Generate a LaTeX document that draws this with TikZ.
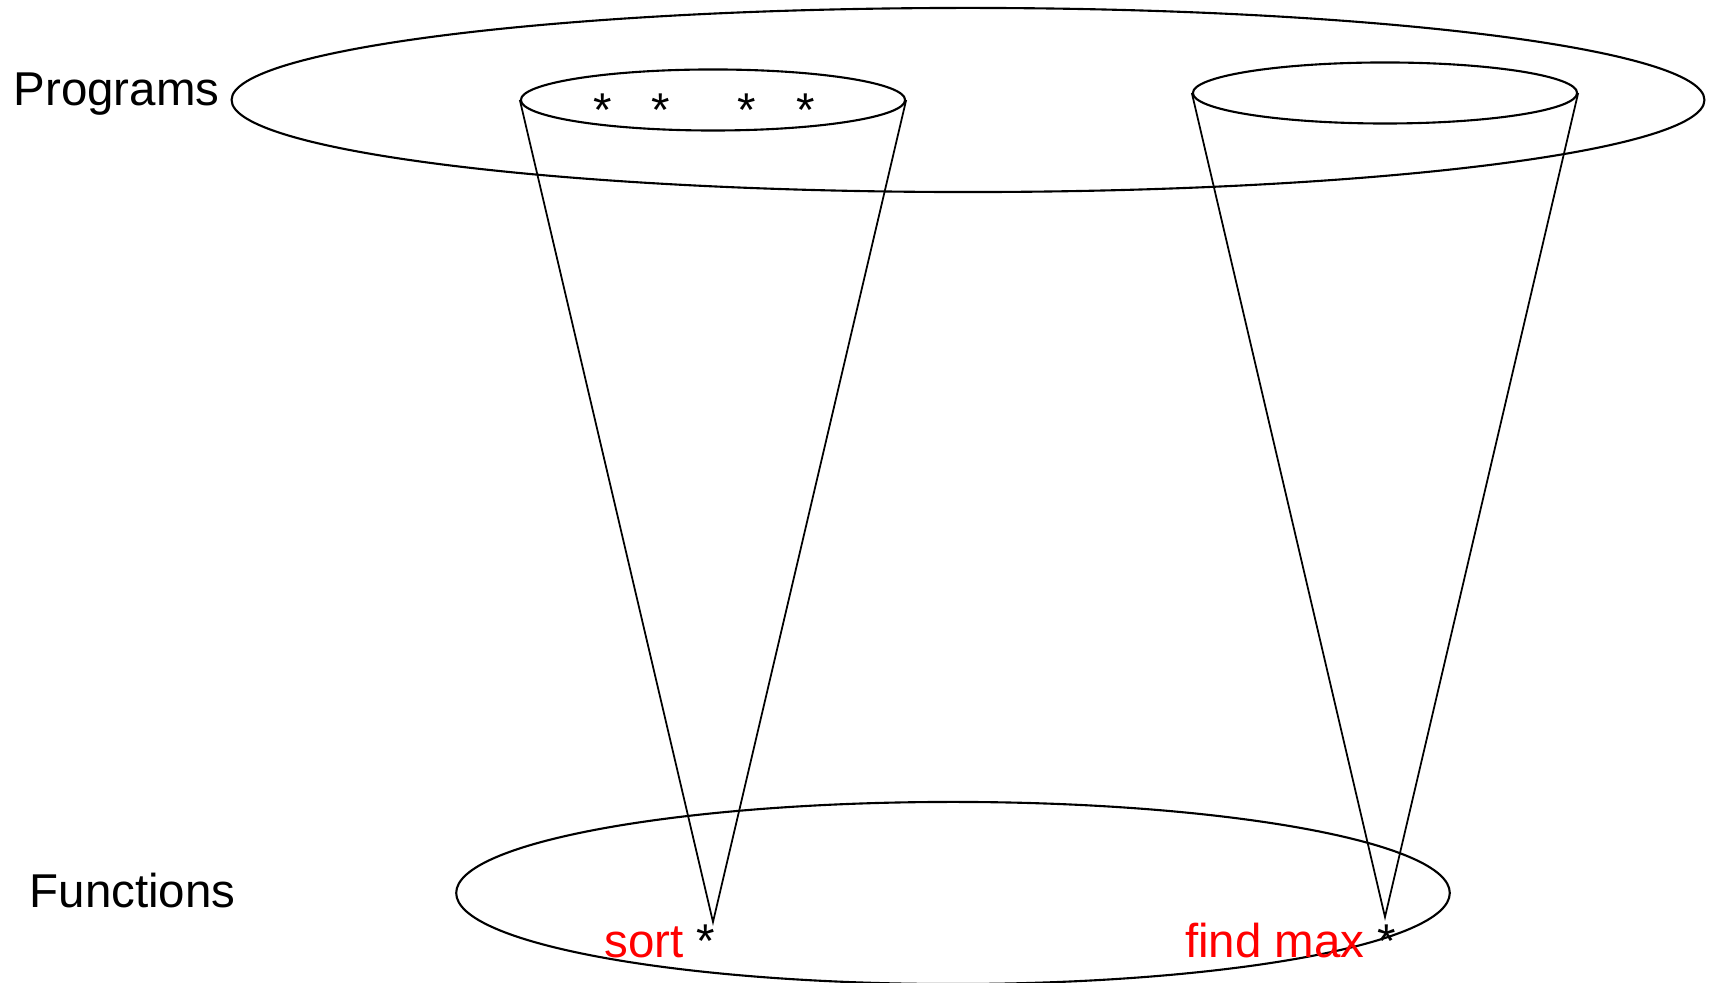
\documentclass[tikz,border=0pt]{standalone}
\usepackage{fontspec}
\setmainfont{Liberation Sans}
\usepackage{xcolor}
\usetikzlibrary{shapes, positioning, calc}

\begin{document}
\begin{tikzpicture}[
    x=0.01cm, y=-0.01cm,
    set/.style={ellipse, draw, inner sep=0pt, line width=0.6pt},
    lbl/.style={inner sep=0pt, font=\fontsize{13.5}{16}\selectfont},
    cone/.style={line width=0.5pt},
]
\useasboundingbox (0,0) rectangle (1711,983);

% Sets
\node (programs) [set, minimum width=147.2mm, minimum height=18.4mm] at (968,100) {};
\node (functions) [set, minimum width=99.3mm, minimum height=18.2mm] at (953,893) {};

% Preimages
\node (sortpre) [set, minimum width=38.4mm, minimum height=6.1mm] at (713,100) {};
\node (maxpre) [set, minimum width=38.4mm, minimum height=6.1mm] at (1385,93) {};

% Labels
\node (proglbl) [lbl, anchor=base west] at (13,106) {Programs};
\node (funclbl) [lbl, anchor=base west] at (29,908) {Functions};
\foreach \x/\n in {603/a, 661/b, 747/c, 806/d}
    \node (star\n) [lbl] at (\x,110) {*};
\node (sortlbl) [lbl, anchor=base east] at (716,958) {\textcolor{red}{sort} *};
\node (maxlbl) [lbl, anchor=base east] at (1397,958) {\textcolor{red}{find max} *};

% Cones
\coordinate (sortpt) at (713,922);
\coordinate (maxpt) at (1385,917);
\draw [cone] (sortpre.west) -- (sortpt) -- (sortpre.east);
\draw [cone] (maxpre.west) -- (maxpt) -- (maxpre.east);

\end{tikzpicture}
\end{document}
